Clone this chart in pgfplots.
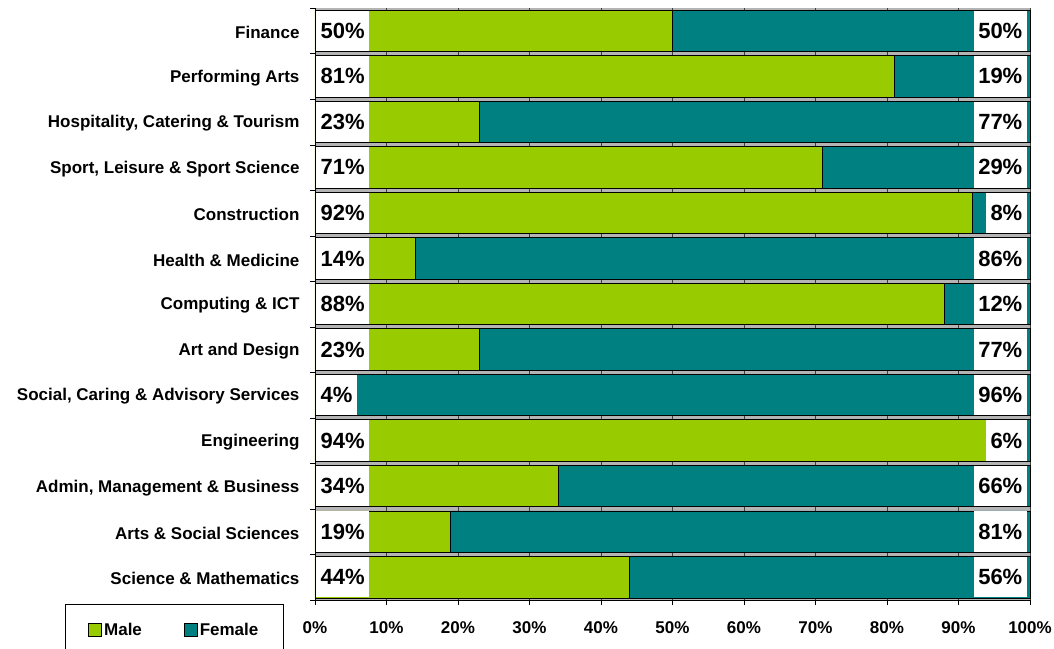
\documentclass[border=0pt]{standalone}
\usepackage{pgfplots}
\pgfplotsset{compat=1.18}
\usepackage{fontspec}
\setmainfont{Liberation Sans}
\definecolor{male}{RGB}{153,204,0}
\definecolor{female}{RGB}{0,128,128}
\definecolor{gapgray}{RGB}{180,180,180}
\tikzset{lbl/.style={fill=white, draw=none, inner xsep=4.5pt, inner ysep=0pt, minimum height=40.5pt,
              font=\fontsize{22}{24}\selectfont\bfseries}}
\begin{document}
\begin{tikzpicture}
\begin{axis}[
  name=ax,
  scale only axis,
  width=715pt, height=592pt,
  xbar stacked,
  bar width=0.91,
  xmin=0, xmax=100,
  ymin=-0.5, ymax=12.5,
  clip=false,
  axis x line*=bottom, axis y line*=left,
  x axis line style={-, black}, y axis line style={-, black},
  axis background/.style={fill=gapgray},
  xtick={0,10,...,100},
  xticklabels={0\%,10\%,20\%,30\%,40\%,50\%,60\%,70\%,80\%,90\%,100\%},
  xmajorgrids, major grid style={black!75, line width=0.8pt},
  ytick={0,...,12},
  yticklabels={Science \& Mathematics, Arts \& Social Sciences, {Admin, Management \& Business}, Engineering, {Social, Caring \& Advisory Services}, Art and Design, Computing \& ICT, Health \& Medicine, Construction, {Sport, Leisure \& Sport Science}, {Hospitality, Catering \& Tourism}, Performing Arts, Finance},
  minor ytick={-0.5,0.5,...,12.5},
  major y tick style={draw=none},
  minor y tick style={black},
  minor tick length=5pt,
  major tick length=5pt,
  tick align=outside,
  x tick style={black},
  ticklabel style={font=\fontsize{17}{20}\selectfont\bfseries},
  yticklabel style={xshift=-7pt, yshift=-1.5pt},
  xticklabel style={yshift=-13pt},
  legend columns=2,
  legend style={at={(-0.3497,-0.0068)}, anchor=north west, draw=black, line width=0.8pt,
    inner xsep=23pt, inner ysep=17pt,
    font=\fontsize{17}{20}\selectfont\bfseries,
    /tikz/every even column/.append style={column sep=40pt}},
  legend image code/.code={\draw[#1, draw=black, line width=0.8pt] (0pt,-6.5pt) rectangle (13pt,6.5pt);},
]
\addplot[fill=male, draw=black, line width=0.8pt] coordinates {
 (44,0) (19,1) (34,2) (94,3) (4,4) (23,5) (88,6) (14,7) (92,8) (71,9) (23,10) (81,11) (50,12)};
\addplot[fill=female, draw=black, line width=0.8pt] coordinates {
 (56,0) (81,1) (66,2) (6,3) (96,4) (77,5) (12,6) (86,7) (8,8) (29,9) (77,10) (19,11) (50,12)};
\legend{Male, Female}
\pgfplotsinvokeforeach{0,...,12}{
  \coordinate (L#1) at (axis cs:0,#1);
  \coordinate (R#1) at (axis cs:100,#1);
}
\end{axis}
\foreach \i/\m/\f in {0/44/56, 1/19/81, 2/34/66, 3/94/6, 4/4/96, 5/23/77, 6/88/12, 7/14/86, 8/92/8, 9/71/29, 10/23/77, 11/81/19, 12/50/50} {
  \node[lbl, anchor=west, xshift=1pt] at (L\i) {\m\%};
  \node[lbl, anchor=east, xshift=-3pt] at (R\i) {\f\%};
}
\pgfresetboundingbox
\path[use as bounding box] ([shift={(-315pt,-48pt)}]ax.south west) rectangle ([shift={(739pt,600pt)}]ax.south west);
\end{tikzpicture}
\end{document}
